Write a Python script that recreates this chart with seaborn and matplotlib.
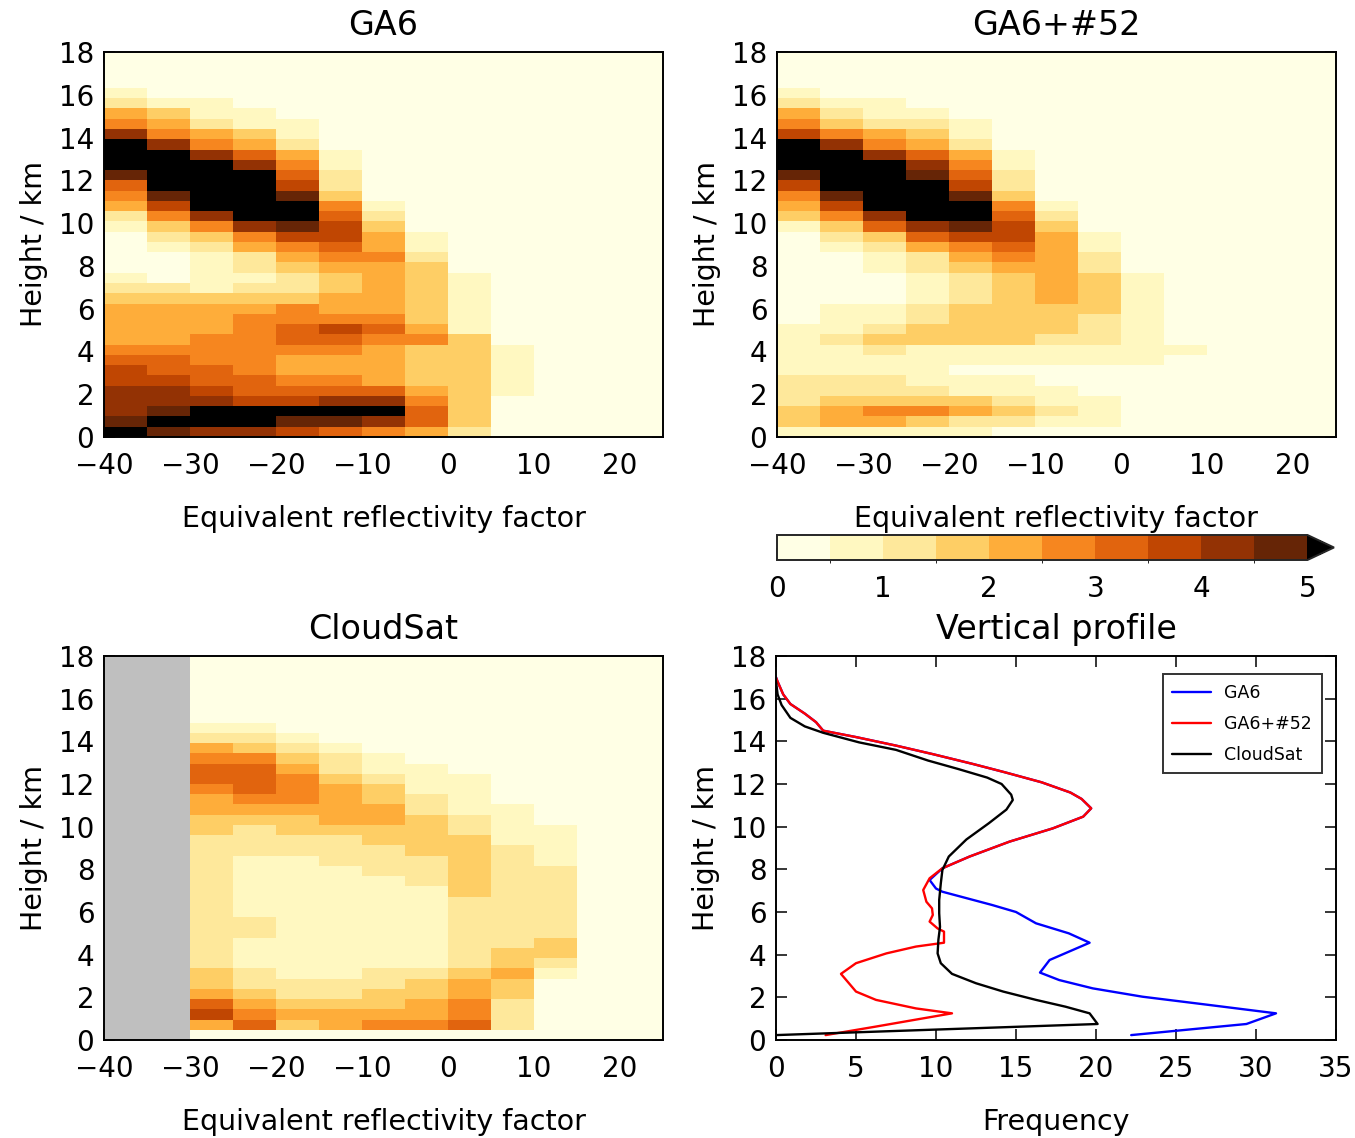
import numpy as np
import pandas as pd
import matplotlib
matplotlib.use("Agg")
import matplotlib.pyplot as plt
from matplotlib.colors import ListedColormap, BoundaryNorm
from matplotlib.cm import ScalarMappable
import seaborn as sns

sns.set_style("white")
plt.rcParams["font.family"] = ["DejaVu Sans"]
plt.rcParams["text.color"] = "black"
plt.rcParams["axes.labelcolor"] = "black"
plt.rcParams["xtick.color"] = "black"
plt.rcParams["ytick.color"] = "black"

# ---------------------------------------------------------------------------
# Binning: 0.48 km height bins, 5 dBZ reflectivity bins from -40 to 25 dBZ
# ---------------------------------------------------------------------------
DZ = 0.48
N_ROWS = 38
dbz_centres = [-37.5, -32.5, -27.5, -22.5, -17.5, -12.5, -7.5, -2.5,
               2.5, 7.5, 12.5, 17.5, 22.5]
x_tick_values = [-40, -30, -20, -10, 0, 10, 20]
y_tick_values = [0, 2, 4, 6, 8, 10, 12, 14, 16, 18]
freq_levels = [0, 0.5, 1, 1.5, 2, 2.5, 3, 3.5, 4, 4.5, 5]

# Frequency class per cell (class c means c*0.5 .. (c+1)*0.5 %, 10 = above 5 %),
# listed from the lowest height bin upwards, columns from -40 dBZ onwards.
ga6_rows = [
    [10, 9, 8, 8, 7, 6, 5, 4, 2],
    [9, 10, 10, 10, 9, 9, 8, 6, 3],
    [8, 9, 10, 10, 10, 10, 10, 6, 3],
    [8, 8, 8, 7, 7, 8, 8, 5, 3],
    [8, 8, 7, 6, 6, 6, 6, 4, 3, 1],
    [7, 7, 6, 6, 5, 5, 4, 3, 3, 1],
    [7, 6, 6, 5, 4, 4, 4, 3, 3, 1],
    [6, 6, 5, 5, 4, 4, 4, 3, 3, 1],
    [5, 5, 5, 5, 5, 5, 4, 3, 3, 1],
    [4, 4, 5, 5, 6, 6, 5, 5, 3],
    [4, 4, 4, 5, 6, 7, 6, 4, 1],
    [4, 4, 4, 5, 5, 5, 5, 3, 1],
    [4, 4, 4, 4, 5, 4, 4, 3, 1],
    [3, 3, 3, 3, 3, 4, 4, 3, 1],
    [2, 2, 1, 2, 2, 3, 4, 3, 1],
    [1, 0, 1, 1, 2, 3, 4, 3, 1],
    [0, 0, 1, 2, 3, 4, 4, 3],
    [0, 0, 1, 2, 4, 5, 5, 2],
    [0, 1, 2, 4, 5, 6, 4, 1],
    [0, 2, 3, 5, 7, 7, 4, 1],
    [1, 3, 5, 8, 9, 7, 3],
    [2, 5, 8, 10, 10, 6, 2],
    [4, 7, 10, 10, 10, 5, 1],
    [5, 9, 10, 10, 9, 3],
    [6, 10, 10, 10, 7, 2],
    [9, 10, 10, 10, 6, 2],
    [10, 10, 10, 8, 5, 1],
    [10, 10, 8, 6, 4, 1],
    [10, 8, 5, 4, 2],
    [8, 5, 4, 3, 1],
    [5, 4, 2, 1, 1],
    [4, 3, 1, 1],
    [2, 1, 1],
    [1],
]

ga6_52_rows = [
    [1, 1, 1, 1, 1],
    [3, 4, 4, 3, 2, 2, 1, 1],
    [3, 4, 5, 5, 4, 3, 2, 1],
    [2, 3, 3, 3, 3, 2, 1, 1],
    [2, 2, 2, 2, 1, 1, 1],
    [2, 2, 2, 1, 1, 1],
    [1, 1, 1, 1],
    [1, 1, 1, 1, 1, 1, 1, 1, 1],
    [1, 1, 2, 1, 1, 1, 1, 1, 1, 1],
    [1, 2, 3, 3, 3, 3, 2, 2, 1],
    [1, 1, 2, 3, 3, 3, 3, 2, 1],
    [0, 1, 1, 2, 3, 3, 3, 2, 1],
    [0, 1, 1, 2, 3, 3, 3, 3, 1],
    [0, 0, 0, 1, 2, 3, 4, 3, 1],
    [0, 0, 0, 1, 2, 3, 4, 3, 1],
    [0, 0, 0, 1, 2, 3, 4, 3, 1],
    [0, 0, 1, 2, 3, 4, 4, 2],
    [0, 0, 1, 2, 4, 5, 4, 2],
    [0, 1, 2, 4, 5, 6, 4, 1],
    [0, 2, 3, 6, 7, 7, 4, 1],
    [1, 3, 6, 8, 9, 7, 3],
    [3, 5, 8, 10, 10, 6, 2],
    [4, 7, 10, 10, 10, 5, 1],
    [5, 9, 10, 10, 9, 3],
    [7, 10, 10, 10, 7, 2],
    [9, 10, 10, 9, 6, 2],
    [10, 10, 10, 8, 5, 1],
    [10, 10, 8, 6, 4, 1],
    [10, 8, 5, 4, 2],
    [7, 5, 4, 3, 1],
    [5, 3, 2, 2, 1],
    [4, 2, 1, 1],
    [2, 1, 1],
    [1],
]

# CloudSat has no samples below -30 dBZ; rows start at the -30 dBZ column.
cloudsat_first_col = 2
cloudsat_rows = [
    [],
    [4, 6, 3, 4, 5, 5, 6, 2],
    [7, 5, 4, 4, 4, 4, 5, 2],
    [6, 4, 3, 3, 3, 4, 5, 2],
    [4, 3, 2, 2, 3, 3, 4, 3],
    [3, 2, 2, 2, 2, 3, 4, 3],
    [3, 2, 1, 1, 2, 2, 3, 4, 1],
    [2, 1, 1, 1, 1, 1, 2, 3, 2],
    [2, 1, 1, 1, 1, 1, 2, 3, 3],
    [2, 1, 1, 1, 1, 1, 2, 2, 3],
    [2, 2, 1, 1, 1, 1, 2, 2, 2],
    [2, 2, 1, 1, 1, 1, 2, 2, 2],
    [2, 1, 1, 1, 1, 1, 2, 2, 2],
    [2, 1, 1, 1, 1, 1, 2, 2, 2],
    [2, 1, 1, 1, 1, 1, 3, 2, 2],
    [2, 1, 1, 1, 1, 2, 3, 2, 2],
    [2, 1, 1, 1, 2, 2, 3, 2, 2],
    [2, 1, 1, 2, 2, 2, 3, 2, 1],
    [2, 2, 2, 2, 2, 3, 3, 2, 1],
    [2, 2, 2, 2, 3, 3, 3, 1, 1],
    [3, 2, 3, 3, 3, 3, 2, 1, 1],
    [3, 3, 3, 4, 4, 3, 2, 1],
    [4, 4, 4, 4, 4, 2, 1, 1],
    [4, 5, 5, 4, 3, 2, 1],
    [5, 6, 5, 4, 3, 1, 1],
    [6, 6, 5, 3, 2, 1, 1],
    [6, 6, 4, 2, 1, 1],
    [5, 5, 3, 2, 1],
    [4, 3, 2, 1],
    [2, 2, 1],
    [1, 1],
]

# Vertical profiles: height (km) and frequency (%)
ga6_height = [0.23, 0.75, 1.25, 1.64, 2.03, 2.42, 2.81, 3.16, 3.75, 4.56, 5.0,
              5.47, 6.0, 6.33, 6.95, 7.1, 7.5, 8.05, 8.6, 9.3, 9.92, 10.47,
              10.86, 11.3, 11.6, 12.08, 12.55, 12.94, 13.4, 13.8, 14.2, 14.5,
              14.9, 15.3, 15.75, 16.2, 16.8, 17.0]
ga6_freq = [22.2, 29.4, 31.25, 27.1, 22.9, 19.8, 17.7, 16.5, 17.1, 19.6, 18.3,
            16.25, 15.0, 13.5, 10.4, 10.0, 9.6, 10.4, 12.1, 14.6, 17.3, 19.2,
            19.7, 19.1, 18.4, 16.6, 14.3, 12.3, 9.8, 7.5, 5.0, 2.95,
            2.5, 1.8, 0.9, 0.45, 0.1, 0.0]

ga6_52_height = [0.23, 0.63, 1.25, 1.48, 1.88, 2.27, 3.1, 3.6, 4.06, 4.38, 4.56,
                 5.08, 5.23, 5.55, 5.86, 6.17, 6.48, 7.03, 7.58, 8.05, 8.6, 9.3,
                 9.92, 10.47, 10.86, 11.3, 11.6, 12.08, 12.55, 12.94, 13.4, 13.8,
                 14.2, 14.5, 14.9, 15.3, 15.75, 16.2, 16.8, 17.0]
ga6_52_freq = [3.1, 6.25, 11.0, 8.75, 6.25, 5.0, 4.06, 5.0, 6.9, 8.75, 10.5,
               10.5, 10.1, 9.6, 9.8, 9.75, 9.4, 9.2, 9.6, 10.4, 12.1, 14.6,
               17.3, 19.2, 19.7, 19.1, 18.4, 16.6, 14.3, 12.3, 9.8, 7.5,
               5.0, 2.95, 2.5, 1.8, 0.9, 0.45, 0.1, 0.0]

cloudsat_height = [0.23, 0.75, 1.25, 1.56, 1.88, 2.27, 2.66, 3.1, 3.6, 4.06, 4.7,
                   5.3, 5.94, 6.56, 7.34, 7.97, 8.6, 9.4, 10.16, 10.8, 11.25,
                   11.5, 12.0, 12.3, 12.7, 13.1, 13.6, 13.95, 14.4, 14.7, 15.1,
                   15.7, 16.2, 16.8]
cloudsat_freq = [0.0, 20.1, 19.6, 18.1, 16.25, 14.2, 12.5, 11.0, 10.3, 10.1,
                 10.15, 10.25, 10.2, 10.2, 10.3, 10.4, 10.8, 11.9, 13.3, 14.4,
                 14.8, 14.7, 14.1, 13.2, 11.4, 9.5, 7.5, 5.2, 2.95, 1.8, 0.9,
                 0.35, 0.1, 0.0]

# ---------------------------------------------------------------------------
W, H = 1355, 1138
fig = plt.figure(figsize=(W / 100, H / 100), dpi=100)
fig.patch.set_facecolor("white")

TICK_FS = 20
LABEL_FS = 20.5
TITLE_FS = 24

base = plt.get_cmap("YlOrBr")
cmap = ListedColormap(base(np.linspace(0, 1, 10)))
cmap.set_over("black")
cmap.set_bad("#bfbfbf")
norm = BoundaryNorm(freq_levels, cmap.N)


def box(left, top, right, bottom):
    return [left / W, 1 - bottom / H, (right - left) / W, (bottom - top) / H]


def style_axes(ax):
    for sp in ax.spines.values():
        sp.set_visible(True)
        sp.set_color("black")
        sp.set_linewidth(1.4)
    ax.tick_params(direction="in", length=8, width=1.1, top=True, right=True,
                   bottom=True, left=True, labelsize=TICK_FS, colors="black")
    ax.tick_params(axis="x", pad=11)
    ax.tick_params(axis="y", pad=7)


def fmt(v):
    return ("\u2212%d" % -v) if v < 0 else "%d" % v


def heat_panel(ax, rows, title, first_col=0):
    grid = np.zeros((N_ROWS, len(dbz_centres)))
    for k, r in enumerate(rows):
        grid[k, first_col:first_col + len(r)] = r
    freq = (grid + 0.5) * 0.5
    if first_col:
        freq[:, :first_col] = np.nan
    heights = [round(DZ * (k + 0.5), 2) for k in range(N_ROWS)]
    df = pd.DataFrame(freq, index=heights, columns=dbz_centres)
    sns.heatmap(df, ax=ax, cmap=cmap, norm=norm, cbar=False,
                xticklabels=False, yticklabels=False)
    ax.set_facecolor("#bfbfbf")
    ax.set_xlim(0, len(dbz_centres))
    ax.set_ylim(0, 18 / DZ)
    ax.set_xticks([(v + 40) / 5 for v in x_tick_values])
    ax.set_xticklabels([fmt(v) for v in x_tick_values])
    ax.set_yticks([h / DZ for h in y_tick_values])
    ax.set_yticklabels([fmt(h) for h in y_tick_values])
    style_axes(ax)
    ax.set_xlabel("Equivalent reflectivity factor", fontsize=LABEL_FS, labelpad=18)
    ax.set_ylabel("Height / km", fontsize=LABEL_FS, labelpad=8)
    ax.set_title(title, fontsize=TITLE_FS, pad=12)


ax1 = fig.add_axes(box(104, 52, 663, 437))
heat_panel(ax1, ga6_rows, "GA6")

ax2 = fig.add_axes(box(777, 52, 1336, 437))
heat_panel(ax2, ga6_52_rows, "GA6+#52")

ax3 = fig.add_axes(box(104, 656, 663, 1040))
heat_panel(ax3, cloudsat_rows, "CloudSat", first_col=cloudsat_first_col)

# Shared colour bar
cax = fig.add_axes(box(777, 535, 1334, 560))
sm = ScalarMappable(norm=norm, cmap=cmap)
cb = fig.colorbar(sm, cax=cax, orientation="horizontal", extend="max",
                  ticks=[0, 1, 2, 3, 4, 5])
cb.ax.tick_params(direction="in", length=9, width=1.1, labelsize=TICK_FS,
                  pad=11, colors="black")
cb.outline.set_linewidth(1.4)

# Vertical profile panel
ax4 = fig.add_axes(box(776, 656, 1336, 1040))
profiles = [
    ("GA6", ga6_freq, ga6_height, "#0000ff"),
    ("GA6+#52", ga6_52_freq, ga6_52_height, "#ff0000"),
    ("CloudSat", cloudsat_freq, cloudsat_height, "black"),
]
for name, f, h, c in profiles:
    sns.lineplot(x=f, y=h, ax=ax4, orient="y", sort=False, estimator=None,
                 color=c, linewidth=1.7, label=name)
ax4.set_xlim(0, 35)
ax4.set_ylim(0, 18)
ax4.set_xticks(range(0, 36, 5))
ax4.set_yticks(y_tick_values)
style_axes(ax4)
ax4.set_xlabel("Frequency", fontsize=LABEL_FS, labelpad=18)
ax4.set_ylabel("Height / km", fontsize=LABEL_FS, labelpad=8)
ax4.set_title("Vertical profile", fontsize=TITLE_FS, pad=12)
leg = ax4.legend(loc="upper right", fontsize=12.5, frameon=True, fancybox=False,
                 handlelength=2.2, borderpad=0.55, labelspacing=0.75,
                 bbox_to_anchor=(0.99, 0.975))
leg.get_frame().set_edgecolor("black")
leg.get_frame().set_linewidth(1.4)

fig.savefig("out.png", dpi=100, facecolor="white")
